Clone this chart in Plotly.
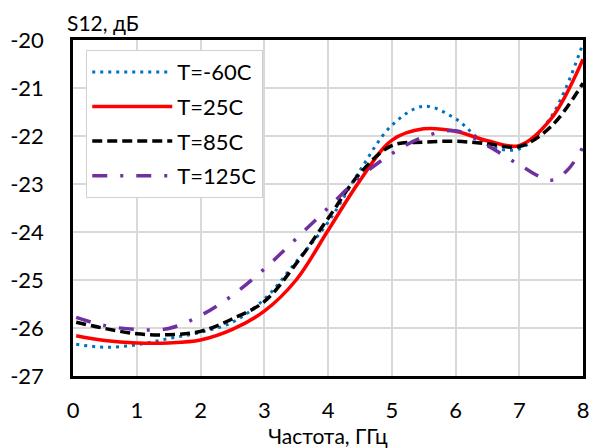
import plotly.graph_objects as go

freq = [0.05, 0.5, 1, 1.5, 2, 2.5, 3, 3.5, 4, 4.5, 5, 5.5, 6, 6.5, 7, 7.5, 8]
s12_m60 = [-26.34, -26.40, -26.35, -26.22, -26.09, -25.88, -25.40, -24.62, -23.80, -22.72,
           -21.78, -21.38, -21.64, -22.18, -22.27, -21.60, -20.07]
s12_25 = [-26.16, -26.26, -26.31, -26.31, -26.25, -26.03, -25.65, -25.00, -23.97, -22.93,
          -22.09, -21.85, -21.90, -22.10, -22.20, -21.64, -20.40]
s12_85 = [-25.88, -26.01, -26.12, -26.14, -26.07, -25.81, -25.45, -24.66, -23.72, -22.78,
          -22.20, -22.13, -22.11, -22.16, -22.22, -21.80, -20.90]
freq_125 = [0.05, 0.5, 1, 1.5, 2, 2.5, 3, 3.5, 4, 4.5, 5, 5.5, 6, 6.5, 7, 7.5, 7.75, 8]
s12_125 = [-25.78, -25.95, -26.03, -26.01, -25.74, -25.32, -24.77, -24.14, -23.50, -22.86,
           -22.37, -22.02, -21.89, -22.20, -22.60, -22.92, -22.72, -22.23]

names = ["T=-60C", "T=25C", "T=85C", "T=125C"]
x_ticks = [0, 1, 2, 3, 4, 5, 6, 7, 8]
y_ticks = [-27, -26, -25, -24, -23, -22, -21, -20]
y_tick_text = ["-27", "-26", "-25", "-24", "-23", "-22", "-21", "-20"]

FONT = "Lato"

fig = go.Figure()
fig.add_trace(go.Scatter(x=freq, y=s12_m60, name=names[0], mode="lines", line_shape="spline",
                         legendgroup="a",
                         line=dict(color="#0070C0", width=3, dash="3px,5px")))
fig.add_trace(go.Scatter(x=freq, y=s12_25, name=names[1], mode="lines", line_shape="spline",
                         legendgroup="b",
                         line=dict(color="#FF0000", width=3.5)))
fig.add_trace(go.Scatter(x=freq, y=s12_85, name=names[2], mode="lines", line_shape="spline",
                         legendgroup="c",
                         line=dict(color="#000000", width=3.5, dash="10px,5px")))
fig.add_trace(go.Scatter(x=freq_125, y=s12_125, name=names[3], mode="lines", line_shape="spline",
                         legendgroup="d",
                         line=dict(color="#7030A0", width=3.5, dash="15px,13px,3px,13px")))

fig.update_layout(
    width=593, height=448,
    margin=dict(l=73, r=10, t=40, b=72),
    paper_bgcolor="white", plot_bgcolor="white",
    font=dict(family=FONT, size=22, color="black"),
    legend=dict(x=0.026, y=0.97, xanchor="left", yanchor="top",
                bgcolor="white", bordercolor="#d0d0d0", borderwidth=1,
                itemwidth=80, font=dict(size=22), tracegroupgap=3, traceorder="grouped"),
    xaxis=dict(range=[0, 8], tickvals=x_ticks, showgrid=True, gridcolor="#d9d9d9", gridwidth=1.5,
               showline=True, linecolor="black", linewidth=2.5, mirror=True, automargin=False,
               zeroline=False, ticks="", ticklabelstandoff=13,
               title=dict(text="Частота, ГГц", font=dict(size=21), standoff=10)),
    yaxis=dict(range=[-27, -20], tickvals=y_ticks, ticktext=y_tick_text, showgrid=True,
               gridcolor="#d9d9d9", gridwidth=1.5, automargin=False,
               showline=True, linecolor="black", linewidth=2.5, mirror=True,
               zeroline=False, ticks="", ticklabelstandoff=22),
    annotations=[dict(text="S12, дБ", xref="paper", yref="paper", x=-0.016, y=1.095,
                      xanchor="left", yanchor="top", showarrow=False, font=dict(size=21))],
)

fig.write_html("out.html")
